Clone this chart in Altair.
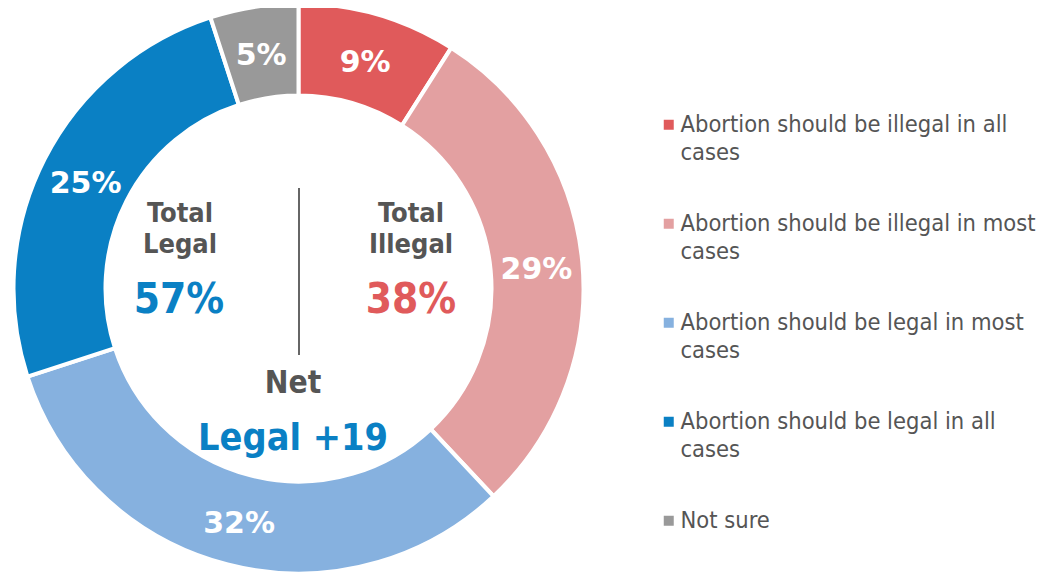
import altair as alt
import pandas as pd

categories = [
    "Abortion should be illegal in all cases",
    "Abortion should be illegal in most cases",
    "Abortion should be legal in most cases",
    "Abortion should be legal in all cases",
    "Not sure",
]
legend_labels = [
    "Abortion should be illegal in all|cases",
    "Abortion should be illegal in most|cases",
    "Abortion should be legal in most|cases",
    "Abortion should be legal in all|cases",
    "Not sure",
]
values = [9, 29, 32, 25, 5]
colors = ["#e05a5b", "#e3a0a1", "#86b1df", "#0a80c4", "#999999"]

total_legal = 57
total_illegal = 38
net_legal = 19

FONT = "DejaVu Sans Condensed"
BOLD_FONT = "DejaVu Sans"
GRAY = "#555555"

df = pd.DataFrame({
    "cat": legend_labels,
    "value": values,
    "idx": list(range(len(values))),
    "label": [f"{v}%" for v in values],
})

CX, CY = 290.5, 280.5

theta = alt.Theta("value:Q", stack=True)
order = alt.Order("idx:Q")

arcs = alt.Chart(df).mark_arc(
    innerRadius=193, outerRadius=285, stroke="white", strokeWidth=4
).encode(
    theta=theta,
    order=order,
    x=alt.value(CX),
    y=alt.value(CY),
    color=alt.Color(
        "cat:N",
        scale=alt.Scale(domain=legend_labels, range=colors),
        legend=alt.Legend(
            orient="none",
            legendX=649,
            legendY=105,
            title=None,
            symbolType="square",
            symbolSize=100,
            symbolStrokeWidth=0,
            labelFont=FONT,
            labelFontSize=23.5,
            labelColor=GRAY,
            labelExpr="split(datum.label, '|')",
            labelLimit=420,
            labelOffset=0,
            rowPadding=46,
        ),
    ),
)

labels = alt.Chart(df).mark_text(
    radius=239, dy=4, font=BOLD_FONT, fontSize=30, fontWeight="bold", color="white"
).encode(
    theta=theta,
    order=order,
    x=alt.value(CX),
    y=alt.value(CY),
    text="label:N",
)

def txt(text, x, y, size, color, lh=None):
    return alt.Chart(pd.DataFrame({"t": [text]})).mark_text(
        font=FONT, fontSize=size, fontWeight="bold", color=color,
        align="center", baseline="middle", lineHeight=lh or size * 1.2,
    ).encode(text="t:N", x=alt.value(x), y=alt.value(y))

center = [
    txt(["Total", "Legal"], 172, 206, 27, GRAY, 31),
    txt(["Total", "Illegal"], 403, 206, 27, GRAY, 31),
    txt(f"{total_legal}%", 171, 292, 42, "#0a80c4"),
    txt(f"{total_illegal}%", 403, 292, 42, "#e05a5b"),
    txt("Net", 285, 376, 31.5, GRAY),
    txt(f"Legal +{net_legal}", 285, 431, 37.5, "#0a80c4"),
]

vline = alt.Chart(pd.DataFrame({"a": [0]})).mark_rule(color="#666666", strokeWidth=2).encode(
    x=alt.value(291), y=alt.value(180), y2=alt.value(347)
)

chart = alt.layer(arcs, labels, vline, *center).properties(
    width=1030, height=566, padding=0,
    autosize=alt.AutoSizeParams(type="none"),
).configure(
    view=alt.ViewConfig(stroke=None),
    style={"guide-label": {"lineHeight": 28}},
)

chart.save("out.html", embed_options={"renderer": "svg", "actions": False})
